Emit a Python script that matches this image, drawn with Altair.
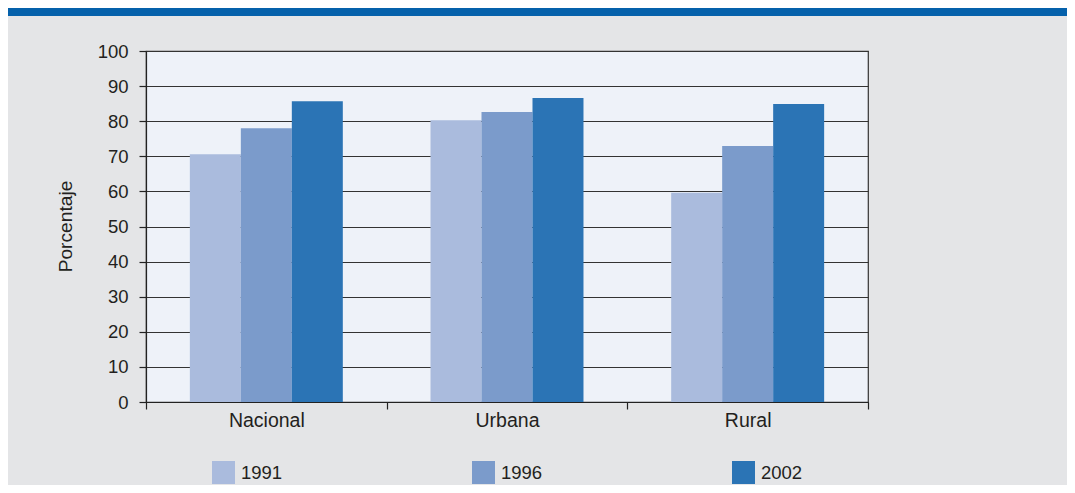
import altair as alt
import pandas as pd

categories = ["Nacional", "Urbana", "Rural"]
years = ["1991", "1996", "2002"]
v1991 = [70.6, 80.3, 59.6]
v1996 = [78.0, 82.6, 72.9]
v2002 = [85.7, 86.6, 84.9]
colors = ["#AABBDD", "#7B9BCB", "#2B74B5"]
y_ticks = list(range(0, 101, 10))

rows = []
for i, c in enumerate(categories):
    for yr, vals in zip(years, [v1991, v1996, v2002]):
        rows.append({"zona": c, "anio": yr, "valor": vals[i]})
df = pd.DataFrame(rows)

FONT = "Liberation Sans"
TXT = "#231F20"

bars = alt.Chart(df).mark_bar().encode(
    x=alt.X(
        "zona:N",
        sort=categories,
        scale=alt.Scale(paddingInner=0, paddingOuter=0),
        axis=alt.Axis(
            title=None,
            tickBand="extent",
            labelAngle=0,
            tickSize=7,
            labelPadding=2,
            labelFontSize=19.5,
            grid=False,
        ),
    ),
    xOffset=alt.XOffset(
        "anio:N", sort=years, scale=alt.Scale(paddingInner=0, paddingOuter=0.86)
    ),
    y=alt.Y(
        "valor:Q",
        scale=alt.Scale(domain=[0, 100], nice=False),
        axis=alt.Axis(
            title="Porcentaje",
            values=y_ticks,
            tickSize=7,
            labelPadding=11,
            labelFontSize=18.5,
            grid=True,
            titleX=-81,
            titleY=175,
            titleAlign="center",
            titleBaseline="middle",
            titleFontSize=19.2,
            titleFontWeight="normal",
        ),
    ),
    color=alt.Color(
        "anio:N",
        sort=years,
        scale=alt.Scale(domain=years, range=colors),
        legend=alt.Legend(
            title=None,
            orient="none",
            legendX=66,
            legendY=410,
            direction="horizontal",
            columns=3,
            columnPadding=189,
            symbolType="square",
            symbolSize=529,
            symbolStrokeWidth=0,
            labelFontSize=18.5,
            labelOffset=6,
            padding=0,
        ),
    ),
)

band = alt.Chart(pd.DataFrame({"a": [0]})).mark_rect(color="#0561AB").encode(
    x=alt.value(-138), x2=alt.value(921), y=alt.value(-43), y2=alt.value(-35)
)

chart = (
    alt.layer(band, bars)
    .properties(
        width=722,
        height=351,
        autosize=alt.AutoSizeParams(type="none"),
        padding={"left": 138, "top": 43, "right": 199, "bottom": 83},
        background="#E4E5E7",
    )
    .configure_view(fill="#EEF2F9", stroke="#333333", strokeWidth=1.2)
    .configure_axis(
        labelFont=FONT,
        titleFont=FONT,
        labelColor=TXT,
        titleColor=TXT,
        domainColor="#222222",
        domainWidth=1.2,
        tickColor="#222222",
        tickWidth=1.2,
        gridColor="#333333",
        gridWidth=1.2,
        gridOpacity=1,
    )
    .configure_legend(labelFont=FONT, labelColor=TXT)
)

chart.save("out.html", embed_options={"renderer": "svg", "actions": False})
